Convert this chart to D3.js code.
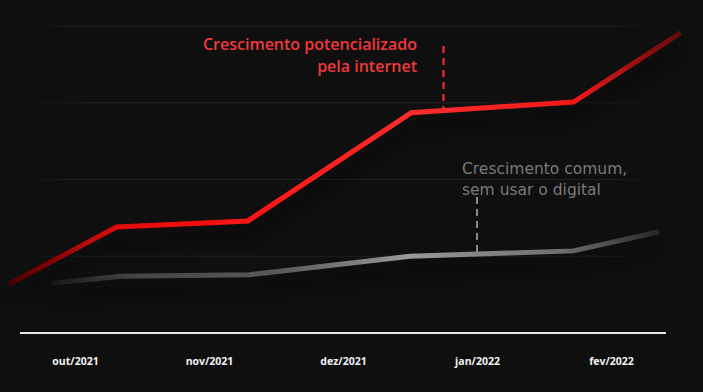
<!DOCTYPE html>
<html>
<head>
<meta charset="utf-8">
<script src="https://cdn.jsdelivr.net/npm/d3@7"></script>
<style>
  html, body { margin: 0; padding: 0; background: #0f0f0f; }
  svg { display: block; }
</style>
</head>
<body>
<div id="chart"></div>
<script>
// posições em "meses" (0 = out/2021) e valores
const months = ['out/2021', 'nov/2021', 'dez/2021', 'jan/2022', 'fev/2022'];
const gridValues = [1, 2, 3, 4];

const digitalX = [-0.49, 0.31, 1.29, 2.51, 3.72, 4.52];
const digitalY = [0.64, 1.38, 1.46, 2.87, 3.01, 3.91];

const comumX = [-0.17, 0.34, 1.30, 2.50, 3.72, 4.36];
const comumY = [0.65, 0.74, 0.76, 1.00, 1.07, 1.32];

const notes = [
    { lines: ['Crescimento potencializado', 'pela internet'], at: 2.75 },
    { lines: ['Crescimento comum,', 'sem usar o digital'], at: 3.0 }
];

const width = 703, height = 392;

const svg = d3.select('#chart').append('svg')
    .attr('width', width).attr('height', height);

svg.append('rect').attr('width', width).attr('height', height).attr('fill', '#0f0f0f');

const x = d3.scaleLinear().domain([0, 4]).range([75, 611]);
const y = d3.scaleLinear().domain([0, 4]).range([333, 26]);

const defs = svg.append('defs');

// sombra das linhas
const shadow = defs.append('filter').attr('id', 'shadow')
    .attr('x', '-20%').attr('y', '-50%').attr('width', '140%').attr('height', '250%');
shadow.append('feDropShadow')
    .attr('dx', 0).attr('dy', 14).attr('stdDeviation', 9)
    .attr('flood-color', '#000').attr('flood-opacity', 0.85);

function gradient(id, stops) {
    const g = defs.append('linearGradient').attr('id', id)
        .attr('gradientUnits', 'userSpaceOnUse')
        .attr('x1', 0).attr('x2', width).attr('y1', 0).attr('y2', 0);
    stops.forEach(([o, c]) => g.append('stop').attr('offset', o).attr('stop-color', c));
}

gradient('gridGrad', [[0.03, '#0f0f0f'], [0.12, '#1f1f1f'], [0.85, '#1f1f1f'], [0.95, '#0f0f0f']]);
gradient('redGrad', [[0.01, '#4a0505'], [0.17, '#e00808'], [0.35, '#ff1414'], [0.6, '#ff2d2d'], [0.82, '#f01818'], [0.97, '#5c0a0a']]);
gradient('grayGrad', [[0.07, '#1a1a1a'], [0.2, '#464646'], [0.4, '#5a5a5a'], [0.58, '#999'], [0.8, '#6e6e6e'], [0.94, '#262626']]);

// linhas de grade
svg.append('g').selectAll('line').data(gridValues).enter().append('line')
    .attr('x1', 20).attr('x2', 666)
    .attr('y1', d => y(d)).attr('y2', d => y(d))
    .attr('stroke', 'url(#gridGrad)').attr('stroke-width', 1);

// eixo x
const xAxis = svg.append('g').attr('transform', `translate(0,${y(0)})`)
    .call(d3.axisBottom(x).tickValues(d3.range(months.length)).tickFormat(i => months[i]).tickSize(0).tickPadding(25));
xAxis.select('.domain').remove();
xAxis.selectAll('text')
    .attr('fill', '#f2f2f2')
    .style('font-family', '"Open Sans", sans-serif')
    .style('font-weight', 700)
    .style('font-size', '10.5px');

svg.append('line')
    .attr('x1', 20).attr('x2', 666).attr('y1', y(0)).attr('y2', y(0))
    .attr('stroke', '#e6e6e6').attr('stroke-width', 2);

const line = d3.line().x(d => x(d[0])).y(d => y(d[1]));

svg.append('path')
    .datum(d3.zip(comumX, comumY))
    .attr('d', line)
    .attr('fill', 'none')
    .attr('stroke', 'url(#grayGrad)')
    .attr('stroke-width', 5)
    .attr('filter', 'url(#shadow)');

svg.append('path')
    .datum(d3.zip(digitalX, digitalY))
    .attr('d', line)
    .attr('fill', 'none')
    .attr('stroke', 'url(#redGrad)')
    .attr('stroke-width', 5)
    .attr('filter', 'url(#shadow)');

// anotações
function valueAt(xs, ys, v) {
    const i = d3.bisectRight(xs, v) - 1;
    const t = (v - xs[i]) / (xs[i + 1] - xs[i]);
    return ys[i] + t * (ys[i + 1] - ys[i]);
}

// tracejado vermelho
const rx = x(notes[0].at);
svg.append('line')
    .attr('x1', rx).attr('x2', rx)
    .attr('y1', 46).attr('y2', y(valueAt(digitalX, digitalY, notes[0].at)) - 2)
    .attr('stroke', '#ff2d2d').attr('stroke-width', 2).attr('stroke-dasharray', '7,5');

svg.append('text')
    .attr('x', 417).attr('y', 50)
    .attr('text-anchor', 'end')
    .attr('fill', '#f23838')
    .style('font-family', '"Open Sans", sans-serif')
    .style('font-weight', 600)
    .style('font-size', '16px')
    .selectAll('tspan').data(notes[0].lines).enter().append('tspan')
    .attr('x', 417).attr('dy', (d, i) => i ? 22 : 0)
    .text(d => d);

// tracejado cinza
const gx = x(notes[1].at);
svg.append('line')
    .attr('x1', gx).attr('x2', gx)
    .attr('y1', 197).attr('y2', y(valueAt(comumX, comumY, notes[1].at)) - 2)
    .attr('stroke', '#8a8a8a').attr('stroke-width', 2).attr('stroke-dasharray', '7,5');

svg.append('text')
    .attr('x', 462).attr('y', 174)
    .attr('fill', '#7a7a7a')
    .style('font-family', '"DejaVu Sans", sans-serif')
    .style('font-size', '15.5px')
    .selectAll('tspan').data(notes[1].lines).enter().append('tspan')
    .attr('x', 462).attr('dy', (d, i) => i ? 21 : 0)
    .text(d => d);
</script>
</body>
</html>
